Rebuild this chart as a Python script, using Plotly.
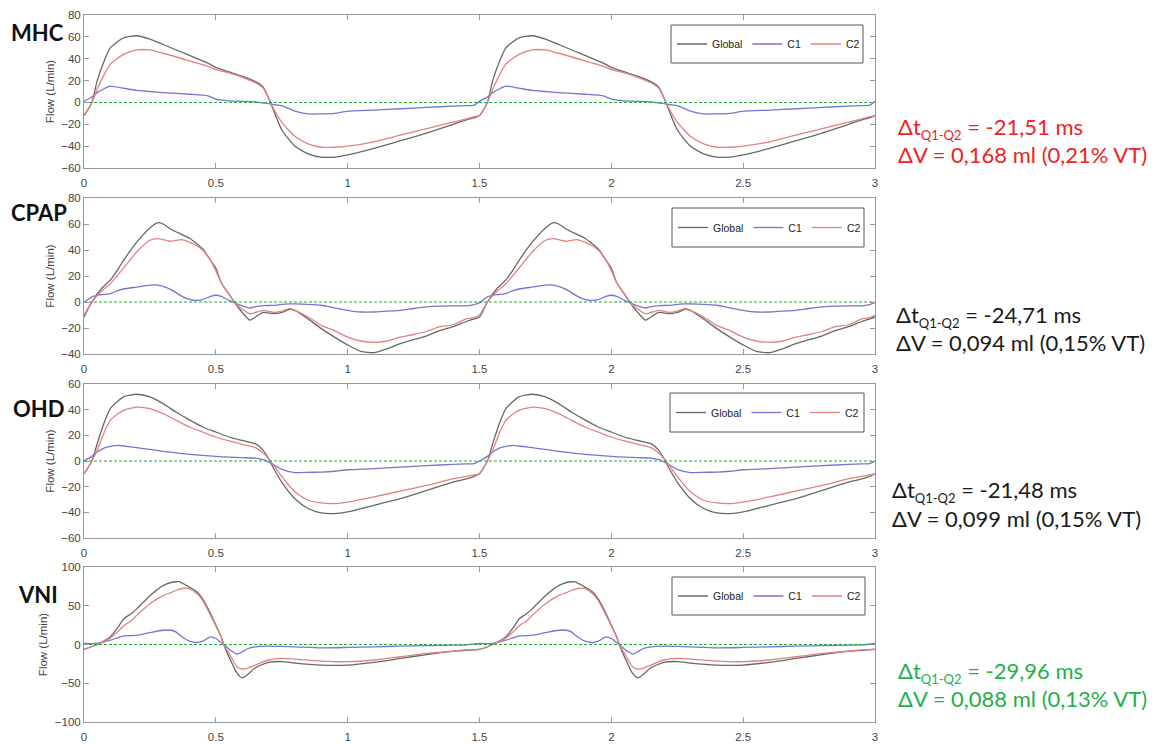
import plotly.graph_objects as go

W, H = 1169, 744
OFF = 8  # page body margin in the browser
FW, FH = W - OFF, H - OFF

# ---------------- data ----------------
T_MHC = [0, 0.03, 0.05, 0.08, 0.1, 0.15, 0.2, 0.25, 0.3, 0.4, 0.47, 0.5, 0.55, 0.6, 0.65, 0.68, 0.7, 0.72, 0.75, 0.8,
         0.85, 0.9, 0.95, 1.0, 1.1, 1.2, 1.3, 1.4, 1.45, 1.48,
         1.5, 1.53, 1.55, 1.58, 1.6, 1.65, 1.7, 1.75, 1.8, 1.9, 1.97, 2.0, 2.05, 2.1, 2.15, 2.18, 2.2, 2.22, 2.25, 2.3,
         2.35, 2.4, 2.45, 2.5, 2.6, 2.7, 2.8, 2.9, 2.95, 2.98, 3.0]
MHC_GLOBAL = [-12, 0, 20, 40, 50, 59, 61, 58, 53, 43, 36, 32, 28, 24, 19, 14, 4, -8, -25, -40,
              -47, -50, -50, -48, -42, -35, -28, -20, -16, -14,
              -12, 0, 20, 40, 50, 59, 61, 58, 53, 43, 36, 32, 28, 24, 19, 14, 4, -8, -25, -40,
              -47, -50, -50, -48, -42, -35, -28, -20, -16, -14, -12]
MHC_C1 = [1, 5, 9, 13, 15, 13, 11, 10, 9, 7.5, 6, 3, 1.5, 1, 0.5, -0.5, -1, -2, -3, -8,
          -10.5, -10.5, -10, -8, -7, -5.8, -4.6, -3.3, -3, -2.5,
          1, 5, 9, 13, 15, 13, 11, 10, 9, 7.5, 6, 3, 1.5, 1, 0.5, -0.5, -1, -2, -3, -8,
          -10.5, -10.5, -10, -8, -7, -5.8, -4.6, -3.3, -3, -2.5, 1]
MHC_C2 = [-12, 0, 12, 27, 35, 44, 48, 48, 45, 38, 33, 30, 27, 23, 18, 13, 4, -6, -18, -31,
          -38, -41, -41, -40, -36, -30, -24, -18, -15, -13,
          -12, 0, 12, 27, 35, 44, 48, 48, 45, 38, 33, 30, 27, 23, 18, 13, 4, -6, -18, -31,
          -38, -41, -41, -40, -36, -30, -24, -18, -15, -13, -12]

T_CPAP = [0, 0.03, 0.065, 0.1, 0.125, 0.15, 0.2, 0.25, 0.28, 0.3, 0.33, 0.37, 0.4, 0.42, 0.45, 0.48, 0.5, 0.52, 0.55,
          0.57, 0.6, 0.63, 0.65, 0.68, 0.72, 0.75, 0.78, 0.8, 0.85, 0.9, 0.95, 1.0, 1.05, 1.1, 1.15, 1.2, 1.25, 1.3,
          1.35, 1.4, 1.45, 1.48,
          1.5, 1.53, 1.565, 1.6, 1.625, 1.65, 1.7, 1.75, 1.78, 1.8, 1.83, 1.87, 1.9, 1.92, 1.95, 1.98, 2.0, 2.02, 2.05,
          2.07, 2.1, 2.13, 2.15, 2.18, 2.22, 2.25, 2.28, 2.3, 2.35, 2.4, 2.45, 2.5, 2.55, 2.6, 2.65, 2.7, 2.75, 2.8,
          2.85, 2.9, 2.95, 2.98, 3.0]
CPAP_GLOBAL = [-11.5, 0, 10, 17, 24, 32, 46, 57, 61, 60, 56, 52, 49, 46, 41, 32, 26, 15, 6,
               0, -8, -14, -11.5, -8, -9, -8, -5.6, -6.4, -13, -20.5, -27, -33, -38, -39, -36, -32, -29, -26,
               -22, -19, -15, -13,
               -11.5, 0, 10, 17, 24, 32, 46, 57, 61, 60, 56, 52, 49, 46, 41, 32, 26, 15, 6,
               0, -8, -14, -11.5, -8, -9, -8, -5.6, -6.4, -13, -20.5, -27, -33, -38, -39, -36, -32, -29, -26,
               -22, -19, -15, -13, -11.5]
CPAP_C1 = [-0.5, 4, 5.6, 6.4, 8.5, 10, 11.5, 13, 13, 12, 9.5, 4.5, 2, 1.3, 1.8, 4.4, 5.2, 4.4, 1.3,
           -0.5, -3, -4.6, -3.5, -2.8, -2.6, -1.8, -1.5, -1.5, -1.8, -2.5, -4.5, -6.4, -7.7, -7.7, -7, -6.4, -5, -3.8,
           -3.2, -3, -3, -2,
           -0.5, 4, 5.6, 6.4, 8.5, 10, 11.5, 13, 13, 12, 9.5, 4.5, 2, 1.3, 1.8, 4.4, 5.2, 4.4, 1.3,
           -0.5, -3, -4.6, -3.5, -2.8, -2.6, -1.8, -1.5, -1.5, -1.8, -2.5, -4.5, -6.4, -7.7, -7.7, -7, -6.4, -5, -3.8,
           -3.2, -3, -3, -2, -0.5]
CPAP_C2 = [-10, 0, 8, 14, 20, 26, 38.5, 47.5, 48.7, 48, 46.7, 48, 46, 44, 40, 32, 24, 15, 6,
           0, -5.6, -9, -8, -6.4, -8, -7, -5, -6.4, -11.5, -18, -22, -27, -30, -31, -30, -27, -25, -22.5,
           -19, -17.5, -13, -12,
           -10, 0, 8, 14, 20, 26, 38.5, 47.5, 48.7, 48, 46.7, 48, 46, 44, 40, 32, 24, 15, 6,
           0, -5.6, -9, -8, -6.4, -8, -7, -5, -6.4, -11.5, -18, -22, -27, -30, -31, -30, -27, -25, -22.5,
           -19, -17.5, -13, -12, -10]

T_OHD = [0, 0.03, 0.05, 0.08, 0.1, 0.13, 0.15, 0.2, 0.25, 0.3, 0.35, 0.4, 0.45, 0.5, 0.55, 0.6, 0.65, 0.68, 0.7,
         0.72, 0.75, 0.8, 0.85, 0.9, 0.95, 1.0, 1.1, 1.2, 1.3, 1.4, 1.45, 1.48,
         1.5, 1.53, 1.55, 1.58, 1.6, 1.63, 1.65, 1.7, 1.75, 1.8, 1.85, 1.9, 1.95, 2.0, 2.05, 2.1, 2.15, 2.18, 2.2,
         2.22, 2.25, 2.3, 2.35, 2.4, 2.45, 2.5, 2.6, 2.7, 2.8, 2.9, 2.95, 2.98, 3.0]
OHD_GLOBAL = [-10, 0, 13.5, 31.7, 40.8, 47, 50, 52, 50, 44.7, 38, 32, 26.5, 22.6, 18.7, 16, 13.5, 8.3, 1.8,
              -6, -16.4, -29.4, -37, -40.5, -41, -39.7, -34.5, -29.4, -22.9, -16.4, -14, -12,
              -10, 0, 13.5, 31.7, 40.8, 47, 50, 52, 50, 44.7, 38, 32, 26.5, 22.6, 18.7, 16, 13.5, 8.3, 1.8,
              -6, -16.4, -29.4, -37, -40.5, -41, -39.7, -34.5, -29.4, -22.9, -16.4, -14, -12, -10]
OHD_C1 = [0, 3.6, 7, 10.4, 11.4, 12.2, 11.7, 10.4, 9, 7.5, 6.3, 5.2, 4.4, 3.6, 3, 2.6, 2.3, 1, -0.8,
          -3, -6.5, -9, -8.8, -8.6, -8, -6.8, -6, -4.7, -3.6, -2.6, -2.2, -2,
          0, 3.6, 7, 10.4, 11.4, 12.2, 11.7, 10.4, 9, 7.5, 6.3, 5.2, 4.4, 3.6, 3, 2.6, 2.3, 1, -0.8,
          -3, -6.5, -9, -8.8, -8.6, -8, -6.8, -6, -4.7, -3.6, -2.6, -2.2, -2, 0]
OHD_C2 = [-10, 0, 8.3, 24, 31.7, 37, 39.5, 42, 40.8, 36.9, 31.7, 26.5, 22.6, 18.7, 15.6, 13, 10.4, 6.2, 1.8,
          -3.4, -12, -24, -30.6, -32.7, -33.2, -32, -28, -23.4, -19, -13.8, -12, -10.8,
          -10, 0, 8.3, 24, 31.7, 37, 39.5, 42, 40.8, 36.9, 31.7, 26.5, 22.6, 18.7, 15.6, 13, 10.4, 6.2, 1.8,
          -3.4, -12, -24, -30.6, -32.7, -33.2, -32, -28, -23.4, -19, -13.8, -12, -10.8, -10]

T_VNI = [0, 0.05, 0.1, 0.13, 0.15, 0.18, 0.2, 0.25, 0.3, 0.33, 0.35, 0.36, 0.38, 0.4, 0.43, 0.45, 0.48, 0.5, 0.52,
         0.53, 0.55, 0.58, 0.6, 0.62, 0.65, 0.7, 0.75, 0.8, 0.9, 1.0, 1.1, 1.2, 1.3, 1.4, 1.45,
         1.5, 1.55, 1.6, 1.63, 1.65, 1.68, 1.7, 1.75, 1.8, 1.83, 1.85, 1.86, 1.88, 1.9, 1.93, 1.95, 1.98, 2.0, 2.02,
         2.03, 2.05, 2.08, 2.1, 2.12, 2.15, 2.2, 2.25, 2.3, 2.4, 2.5, 2.6, 2.7, 2.8, 2.9, 2.95, 3.0]
VNI_GLOBAL = [-6.4, 0, 10, 22.6, 33, 40, 46, 63, 76, 80, 81, 81, 78, 74, 67.5, 59, 40, 25, 10,
              0, -16, -37, -43, -39, -30, -23, -22, -24, -26.5, -26.5, -23, -18, -13, -8.5, -7.5,
              -6.4, 0, 10, 22.6, 33, 40, 46, 63, 76, 80, 81, 81, 78, 74, 67.5, 59, 40, 25, 10,
              0, -16, -37, -43, -39, -30, -23, -22, -24, -26.5, -26.5, -23, -18, -13, -8.5, -7.5, -6.4]
VNI_C1 = [1.3, 1.3, 5.5, 9, 11, 11.5, 12, 15.4, 18.4, 18.4, 16, 12.8, 8, 4.3, 2.6, 4.3, 9.8, 7.7, 2.6,
          0, -6, -12.4, -9.4, -5.5, -3, -2.1, -2.5, -3, -4.3, -3.8, -3, -2.1, -1.5, -0.9, -0.5,
          1.3, 1.3, 5.5, 9, 11, 11.5, 12, 15.4, 18.4, 18.4, 16, 12.8, 8, 4.3, 2.6, 4.3, 9.8, 7.7, 2.6,
          0, -6, -12.4, -9.4, -5.5, -3, -2.1, -2.5, -3, -4.3, -3.8, -3, -2.1, -1.5, -0.9, -0.5, 1.3]
VNI_C2 = [-6, 0, 8.5, 17, 24, 31, 37.6, 52.5, 63, 67, 70, 71, 72.6, 72, 65, 57, 37.6, 24, 10,
          0, -11.5, -28.6, -31.6, -30.8, -26.5, -20, -18, -18.8, -21.4, -22.2, -20, -15.8, -11.5, -8.5, -7,
          -6, 0, 8.5, 17, 24, 31, 37.6, 52.5, 63, 67, 70, 71, 72.6, 72, 65, 57, 37.6, 24, 10,
          0, -11.5, -28.6, -31.6, -30.8, -26.5, -20, -18, -18.8, -21.4, -22.2, -20, -15.8, -11.5, -8.5, -7, -6]

PANEL_NAMES = ["MHC", "CPAP", "OHD", "VNI"]
SERIES_NAMES = ["Global", "C1", "C2"]
Y_RANGES = [[-60, 80], [-40, 80], [-60, 60], [-100, 100]]
Y_DTICKS = [20, 20, 20, 50]
X_TICKS = [0, 0.5, 1, 1.5, 2, 2.5, 3]
X_TICK_LABELS = ["0", "0.5", "1", "1.5", "2", "2.5", "3"]
ZERO_LINE = [0, 0]
X_RANGE = [0, 3]
DT_TEXT = ["-21,51 ms", "-24,71 ms", "-21,48 ms", "-29,96 ms"]
DV_TEXT = ["0,168 ml (0,21% VT)", "0,094 ml (0,15% VT)", "0,099 ml (0,15% VT)", "0,088 ml (0,13% VT)"]

PANELS = [
    (T_MHC, [MHC_GLOBAL, MHC_C1, MHC_C2]),
    (T_CPAP, [CPAP_GLOBAL, CPAP_C1, CPAP_C2]),
    (T_OHD, [OHD_GLOBAL, OHD_C1, OHD_C2]),
    (T_VNI, [VNI_GLOBAL, VNI_C1, VNI_C2]),
]

# ---------------- styling / layout (positions in window pixels) ----------------
COLORS = ["#646a67", "#7575d2", "#e08282"]
TEXT_COLORS = ["#ee2222", "#1a1a1a", "#1a1a1a", "#22b04b"]
PLOT_X = (84, 875)
PLOT_Y = [(15, 168), (198, 354), (384, 538), (567, 722)]  # top, bottom
LEGEND_BOX = [(671, 25, 863, 63), (672, 208, 864, 247), (670, 393, 864, 432), (672, 577, 865, 615)]
LABEL_POS = [(9, 33), (9, 213), (11, 408), (16, 594)]
TEXT_POS = [(896, 128, 155), (894, 316, 342), (890, 491, 519), (896, 672, 698)]

def px_x(p):
    return (p - OFF) / FW

def px_y(p):
    return 1 - (p - OFF) / FH

fig = go.Figure()
layout = dict(
    width=FW, height=FH, margin=dict(l=0, r=0, t=0, b=0, autoexpand=False),
    paper_bgcolor="white", plot_bgcolor="white",
    font=dict(family="Liberation Sans, Arial, sans-serif", color="#444"),
    annotations=[], shapes=[],
)

for i, (t, series) in enumerate(PANELS):
    n = i + 1
    xa = "x" if n == 1 else f"x{n}"
    ya = "y" if n == 1 else f"y{n}"
    leg = "legend" if n == 1 else f"legend{n}"
    for s, (name, vals) in enumerate(zip(SERIES_NAMES, series)):
        fig.add_trace(go.Scatter(
            x=t, y=vals, mode="lines", name=name, xaxis=xa, yaxis=ya, legend=leg,
            line=dict(color=COLORS[s], width=1.3, shape="spline", smoothing=0.6),
        ))
    fig.add_trace(go.Scatter(
        x=X_RANGE, y=ZERO_LINE, mode="lines", showlegend=False, xaxis=xa, yaxis=ya, hoverinfo="skip",
        line=dict(color="#1faa3a", width=1.1, dash="3px,2px"),
    ))
    top, bot = PLOT_Y[i]
    axis_common = dict(showline=True, linecolor="#999", linewidth=1, mirror="ticks", ticks="inside",
                       ticklen=5, tickcolor="#999", showgrid=False, zeroline=False, automargin=False,
                       tickfont=dict(size=11.5, color="#444"))
    layout["xaxis" if n == 1 else f"xaxis{n}"] = dict(
        domain=[px_x(PLOT_X[0]), px_x(PLOT_X[1])], range=X_RANGE, anchor=ya,
        tickvals=X_TICKS, ticktext=X_TICK_LABELS, ticklabelstandoff=4, **axis_common)
    layout["yaxis" if n == 1 else f"yaxis{n}"] = dict(
        domain=[px_y(bot), px_y(top)], range=Y_RANGES[i], dtick=Y_DTICKS[i], anchor=xa,
        title=dict(text="Flow (L/min)", font=dict(size=11.5, color="#444"), standoff=4), **axis_common)
    x0, y0, x1, y1 = LEGEND_BOX[i]
    layout["shapes"].append(dict(type="rect", xref="paper", yref="paper",
                                 x0=px_x(x0), x1=px_x(x1), y0=px_y(y1), y1=px_y(y0),
                                 line=dict(color="#555", width=1), fillcolor="white", layer="above"))
    layout[leg] = dict(orientation="h", x=px_x(x0 + 1), xanchor="left",
                       y=px_y((y0 + y1) / 2), yanchor="middle", bgcolor="rgba(0,0,0,0)",
                       borderwidth=0, font=dict(size=10.5, color="#222"), itemwidth=30)
    lx, ly = LABEL_POS[i]
    layout["annotations"].append(dict(
        text=f"<b>{PANEL_NAMES[i]}</b>", xref="paper", yref="paper", x=px_x(lx), y=px_y(ly),
        xanchor="left", yanchor="middle", showarrow=False,
        font=dict(family="Lato, Open Sans, sans-serif", size=22, color="#111")))
    tx, ty1, ty2 = TEXT_POS[i]
    layout["annotations"].append(dict(
        text=f"Δt<sub><span style='font-size:13px'>Q1-Q2</span></sub> = {DT_TEXT[i]}",
        xref="paper", yref="paper", x=px_x(tx), y=px_y(ty1),
        xanchor="left", yanchor="middle", showarrow=False,
        font=dict(family="Lato, Open Sans, sans-serif", size=22, color=TEXT_COLORS[i])))
    layout["annotations"].append(dict(
        text=f"ΔV = {DV_TEXT[i]}", xref="paper", yref="paper", x=px_x(tx), y=px_y(ty2),
        xanchor="left", yanchor="middle", showarrow=False,
        font=dict(family="Lato, Open Sans, sans-serif", size=22, color=TEXT_COLORS[i])))

fig.update_layout(**layout)
fig.write_html("out.html")
